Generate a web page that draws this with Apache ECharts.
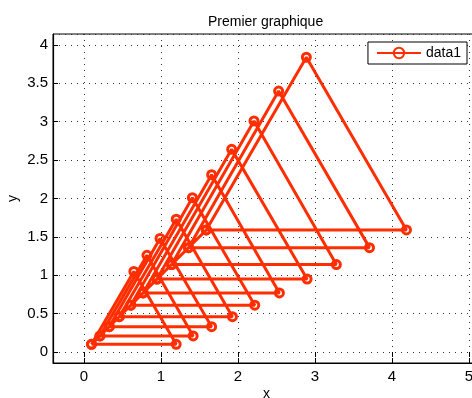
<!DOCTYPE html>
<html>
<head>
<meta charset="utf-8">
<script src="https://cdn.jsdelivr.net/npm/echarts@6/dist/echarts.min.js"></script>
<style>
  html, body { margin: 0; padding: 0; background: #fff; }
  #main { width: 472px; height: 398px; }
</style>
</head>
<body>
<div id="main"></div>
<script>
// triangle vertices
var cornerXY = [0.10, 0.21, 0.33, 0.46, 0.61, 0.77, 0.95, 1.14, 1.36, 1.59]; // bottom-left vertex (x = y)
var rightX = [1.20, 1.42, 1.66, 1.93, 2.22, 2.54, 2.90, 3.28, 3.71, 4.19];
var topX = [0.65, 0.82, 0.99, 1.20, 1.41, 1.66, 1.92, 2.21, 2.53, 2.89];
var topY = [1.05, 1.26, 1.48, 1.73, 2.01, 2.31, 2.64, 3.01, 3.40, 3.84];
var seriesName = 'data1';

var red = '#ff2e00';
var font = 'Liberation Sans, Arial, Helvetica, sans-serif';

// path: bottom-left -> right -> top -> bottom-left, one triangle after the other
var path = [];
for (var i = 0; i < cornerXY.length; i++) {
    path.push([cornerXY[i], cornerXY[i]]);
    path.push([rightX[i], cornerXY[i]]);
    path.push([topX[i], topY[i]]);
    path.push([cornerXY[i], cornerXY[i]]);
}

var myChart = echarts.init(document.getElementById('main'), null, { renderer: 'canvas' });

var gridDots = { show: true, lineStyle: { color: '#333', width: 1, type: [1, 5] } };

var option = {
    animation: false,
    backgroundColor: '#fff',
    textStyle: { fontFamily: font },
    title: {
        text: 'Premier graphique',
        left: 203,
        top: 10,
        textStyle: { fontSize: 14, fontWeight: 'normal', color: '#000', fontFamily: font }
    },
    legend: {
        right: 5,
        top: 42,
        data: [seriesName],
        itemWidth: 44,
        itemHeight: 13,
        itemGap: 4,
        padding: [4, 6, 4, 8],
        backgroundColor: '#fff',
        borderColor: '#000',
        borderWidth: 1,
        borderRadius: 0,
        textStyle: { fontSize: 14, color: '#000', fontFamily: font }
    },
    grid: {
        left: 53,
        top: 34,
        bottom: 35,
        right: -8,
        outerBoundsMode: 'none',
        containLabel: false,
        show: true,
        borderColor: '#000',
        borderWidth: 1,
        backgroundColor: '#fff'
    },
    xAxis: [
        {
            type: 'value',
            min: -0.4,
            max: 5.145,
            splitNumber: 5,
            name: 'x',
            nameLocation: 'middle',
            nameGap: 24,
            nameMoveOverlap: false,
            nameTextStyle: { fontSize: 14, color: '#000' },
            axisLine: { show: true, onZero: false, lineStyle: { color: '#000', width: 1.2 } },
            axisTick: { show: true, inside: true, length: 5, lineStyle: { color: '#000' } },
            axisLabel: { fontSize: 15, color: '#000', margin: 6, showMinLabel: false, showMaxLabel: false },
            splitLine: gridDots
        },
        {
            type: 'value',
            position: 'top',
            min: -0.4,
            max: 5.145,
            splitNumber: 5,
            axisLine: { show: false },
            axisTick: { show: true, inside: true, length: 5, lineStyle: { color: '#000' } },
            axisLabel: { show: false },
            splitLine: { show: false }
        }
    ],
    yAxis: {
        type: 'value',
        min: -0.143,
        max: 4.143,
        splitNumber: 9,
        name: 'y',
        nameLocation: 'middle',
        nameGap: 33,
        nameMoveOverlap: false,
        nameRotate: 90,
        nameTextStyle: { fontSize: 14, color: '#000' },
        axisLine: { show: true, onZero: false, lineStyle: { color: '#000', width: 1.2 } },
        axisTick: { show: true, inside: true, length: 5, lineStyle: { color: '#000' } },
        axisLabel: { fontSize: 15, color: '#000', margin: 5, showMinLabel: false, showMaxLabel: false },
        splitLine: gridDots
    },
    series: [
        {
            name: seriesName,
            type: 'line',
            data: path,
            symbol: 'circle',
            symbolSize: 8,
            showAllSymbol: true,
            lineStyle: { color: red, width: 3 },
            itemStyle: { color: 'rgba(255,255,255,0)', borderColor: red, borderWidth: 3 },
            emphasis: { disabled: true }
        }
    ]
};

myChart.setOption(option);
</script>
</body>
</html>
